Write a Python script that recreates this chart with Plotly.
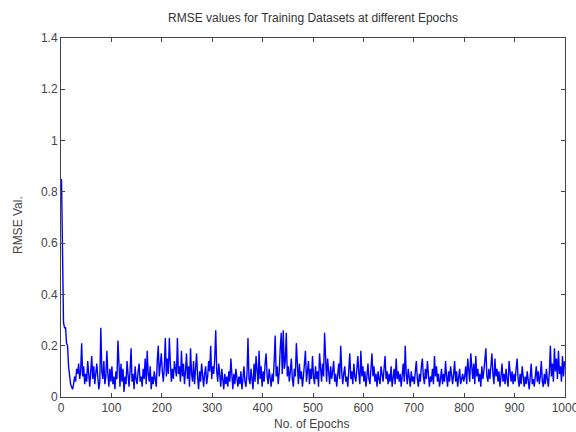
import plotly.graph_objects as go

# RMSE values (every second epoch, starting at epoch 1)
rmse = [
    0.85,0.52,0.29,0.27,0.27,0.21,0.20,0.12,0.07,0.05,0.04,0.03,0.05,0.08,0.06,0.11,0.09,0.13,0.07,0.10,0.21,0.08,0.12,0.05,0.09,
    0.06,0.14,0.08,0.04,0.10,0.16,0.07,0.12,0.05,0.09,0.13,0.08,0.03,0.06,0.27,0.10,0.07,0.14,0.05,0.08,0.18,0.09,0.04,0.11,0.06,
    0.12,0.05,0.08,0.03,0.10,0.07,0.22,0.09,0.04,0.13,0.06,0.11,0.02,0.08,0.05,0.14,0.07,0.04,0.10,0.19,0.06,0.09,0.03,0.12,0.07,
    0.05,0.10,0.13,0.06,0.08,0.04,0.11,0.07,0.15,0.05,0.18,0.09,0.06,0.12,0.03,0.08,0.05,0.10,0.06,0.04,0.14,0.20,0.08,0.13,0.17,
    0.10,0.06,0.12,0.23,0.08,0.15,0.09,0.23,0.13,0.06,0.11,0.07,0.14,0.10,0.08,0.23,0.09,0.12,0.06,0.18,0.08,0.13,0.05,0.10,0.17,
    0.07,0.12,0.04,0.19,0.09,0.06,0.14,0.05,0.11,0.17,0.08,0.03,0.10,0.06,0.13,0.07,0.04,0.09,0.12,0.05,0.08,0.14,0.10,0.20,0.07,
    0.12,0.09,0.15,0.26,0.10,0.06,0.13,0.08,0.04,0.11,0.07,0.03,0.09,0.05,0.08,0.04,0.10,0.06,0.15,0.07,0.03,0.09,0.05,0.11,0.06,
    0.04,0.08,0.05,0.10,0.03,0.07,0.12,0.06,0.04,0.09,0.23,0.07,0.05,0.11,0.08,0.03,0.13,0.06,0.16,0.09,0.05,0.18,0.07,0.12,0.04,
    0.10,0.06,0.13,0.17,0.08,0.05,0.11,0.07,0.04,0.09,0.06,0.14,0.24,0.08,0.12,0.05,0.10,0.19,0.25,0.09,0.26,0.11,0.14,0.25,0.08,
    0.12,0.06,0.10,0.15,0.07,0.04,0.11,0.08,0.21,0.09,0.05,0.13,0.07,0.10,0.04,0.08,0.12,0.18,0.06,0.09,0.14,0.05,0.11,0.07,0.16,
    0.08,0.05,0.12,0.07,0.10,0.04,0.17,0.09,0.06,0.13,0.08,0.25,0.11,0.06,0.15,0.09,0.05,0.12,0.07,0.10,0.14,0.06,0.09,0.04,0.11,
    0.13,0.07,0.20,0.10,0.05,0.09,0.12,0.06,0.08,0.04,0.11,0.17,0.07,0.10,0.05,0.13,0.08,0.06,0.11,0.16,0.09,0.05,0.18,0.08,0.12,
    0.06,0.10,0.04,0.08,0.13,0.07,0.05,0.11,0.17,0.08,0.12,0.06,0.09,0.04,0.10,0.07,0.05,0.12,0.08,0.06,0.11,0.16,0.07,0.10,0.05,
    0.09,0.06,0.12,0.04,0.08,0.11,0.05,0.15,0.07,0.10,0.06,0.09,0.04,0.08,0.13,0.06,0.20,0.09,0.05,0.11,0.07,0.04,0.10,0.06,0.08,
    0.05,0.10,0.14,0.07,0.04,0.09,0.06,0.12,0.15,0.08,0.05,0.11,0.07,0.14,0.09,0.04,0.08,0.06,0.11,0.05,0.16,0.08,0.12,0.06,0.09,
    0.04,0.07,0.11,0.05,0.09,0.06,0.14,0.08,0.04,0.10,0.06,0.12,0.07,0.05,0.09,0.14,0.06,0.10,0.04,0.08,0.11,0.05,0.07,0.09,0.06,
    0.08,0.12,0.05,0.15,0.09,0.06,0.17,0.10,0.07,0.13,0.05,0.16,0.08,0.11,0.06,0.09,0.04,0.12,0.07,0.10,0.14,0.19,0.08,0.06,0.11,
    0.07,0.12,0.17,0.09,0.05,0.15,0.08,0.11,0.06,0.10,0.04,0.08,0.13,0.06,0.09,0.05,0.11,0.07,0.04,0.14,0.08,0.06,0.10,0.05,0.09,
    0.06,0.11,0.15,0.07,0.04,0.09,0.05,0.12,0.07,0.04,0.08,0.05,0.10,0.06,0.03,0.08,0.13,0.05,0.07,0.04,0.09,0.12,0.06,0.10,0.05,
    0.08,0.14,0.06,0.04,0.09,0.05,0.11,0.07,0.04,0.10,0.20,0.08,0.13,0.06,0.19,0.10,0.15,0.07,0.18,0.09,0.12,0.06,0.16,0.08,0.14,
]
epochs = [1 + 2 * i for i in range(len(rmse))]

x_ticks = [0, 100, 200, 300, 400, 500, 600, 700, 800, 900, 1000]
x_labels = ["0", "100", "200", "300", "400", "500", "600", "700", "800", "900", "1000"]
y_ticks = [0, 0.2, 0.4, 0.6, 0.8, 1.0, 1.2, 1.4]
y_labels = ["0", "0.2", "0.4", "0.6", "0.8", "1", "1.2", "1.4"]

title_text = "RMSE values for Training Datasets at different Epochs"
x_title = "No. of Epochs"
y_title = "RMSE Val."

fig = go.Figure()
fig.add_trace(go.Scatter(x=epochs, y=rmse, mode="lines",
                         line=dict(color="#0000ff", width=1.4), showlegend=False))

font = dict(family="Liberation Sans, Arial, sans-serif", size=12, color="#444444")
axis_common = dict(showgrid=False, zeroline=False, showline=True, linecolor="#444444",
                   linewidth=1, mirror="ticks", ticks="inside", ticklen=4,
                   tickcolor="#444444", tickfont=font, automargin=False,
                   ticklabeloverflow="allow")

fig.update_layout(
    width=576, height=432,
    margin=dict(l=61, r=11, t=38, b=35),
    paper_bgcolor="white", plot_bgcolor="white",
    xaxis=dict(range=[0, 1000], tickvals=x_ticks, ticktext=x_labels, **axis_common),
    yaxis=dict(range=[0, 1.4], tickvals=y_ticks, ticktext=y_labels, **axis_common),
    annotations=[
        dict(text=title_text, xref="paper", yref="paper", x=0.5, y=1.0, yshift=20,
             showarrow=False, xanchor="center", yanchor="middle",
             font=dict(family="Liberation Sans, Arial, sans-serif", size=12, color="#333333")),
        dict(text=x_title, xref="paper", yref="paper", x=0.498, y=0, yshift=-27,
             showarrow=False, xanchor="center", yanchor="middle", font=font),
        dict(text=y_title, xref="paper", yref="paper", x=0, xshift=-43, y=0.479,
             showarrow=False, xanchor="center", yanchor="middle", textangle=-90, font=font),
    ],
)

fig.write_html("out.html", config={"displayModeBar": False},
               post_script="document.body.style.margin='0';")
